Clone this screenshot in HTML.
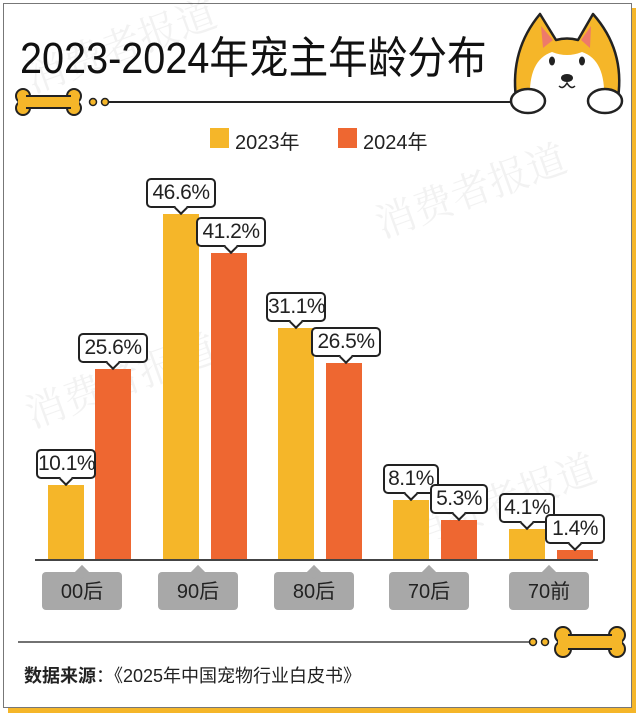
<!DOCTYPE html>
<html><head><meta charset="utf-8"><style>
body{margin:0;width:640px;height:719px;background:#fff;overflow:hidden;font-family:"Liberation Sans","Noto Sans CJK SC",sans-serif}
#c{position:relative;width:640px;height:719px;overflow:hidden}
.a{position:absolute}
.bar{position:absolute;width:36px}
.y{background:#F5B629}.o{background:#EE6731}
.lb{position:absolute;height:26px;border:2px solid #222;border-radius:5px;background:#fff;font-size:21px;line-height:26px;text-align:center;color:#222;letter-spacing:-0.5px}
.lb:after{content:"";position:absolute;left:50%;bottom:-7px;margin-left:-5px;width:8px;height:8px;background:#fff;border-right:2px solid #222;border-bottom:2px solid #222;transform:rotate(45deg)}
.cat{position:absolute;top:572px;width:80px;height:38px;background:#A8A8A8;border-radius:4px;font-size:20px;line-height:40px;text-align:center;color:#222}
.cat:before{content:"";position:absolute;left:50%;top:-5px;margin-left:-5px;width:10px;height:10px;background:#A8A8A8;transform:rotate(45deg)}
.wm{position:absolute;color:rgba(0,0,0,0.05);font-family:"Noto Serif CJK SC",serif;font-size:40px;transform:rotate(-20deg);white-space:nowrap}
</style></head><body><div id="c">
<div class="a" style="left:8px;top:8px;width:628px;height:705px;background:#F5B629"></div>
<div class="a" style="left:3px;top:3px;width:627px;height:703px;background:#fff;border:1px solid #777"></div>
<div class="wm" style="left:20px;top:15px">消费者报道</div>
<div class="wm" style="left:370px;top:160px">消费者报道</div>
<div class="wm" style="left:20px;top:350px">消费者报道</div>
<div class="wm" style="left:400px;top:470px">消费者报道</div>
<div class="a" style="left:20px;top:22px;font-size:44px;color:#111;transform:scaleX(0.9);transform-origin:0 0;white-space:nowrap">2023-2024年宠主年龄分布</div>
<svg class="a" style="left:0;top:0" width="640" height="120">
<line x1="108" y1="102" x2="515" y2="102" stroke="#222" stroke-width="2"/>
<circle cx="93" cy="102" r="3.5" fill="#F5B629" stroke="#222" stroke-width="1.5"/>
<circle cx="105" cy="102" r="3.5" fill="#F5B629" stroke="#222" stroke-width="1.5"/>
<g fill="#F5B629" stroke="#222" stroke-width="2">
<circle cx="23" cy="96" r="7"/><circle cx="23" cy="108" r="7"/><circle cx="74" cy="96" r="7"/><circle cx="74" cy="108" r="7"/>
<line x1="26" y1="96" x2="71" y2="96"/><line x1="26" y1="108" x2="71" y2="108"/>
</g>
<rect x="18" y="97" width="61" height="10" fill="#F5B629"/>
<path d="M516 98 Q510 50 540 14 L556 40 Q567 37 578 40 L593 14 Q625 50 618 98 Z" fill="#F5B629" stroke="#222" stroke-width="2.5" stroke-linejoin="round"/>
<path d="M541 26 L543 48 L553 40Z M591 26 L581 40 L590 48Z" fill="#EE7A6A"/>
<path d="M530 100 Q528 60 552 52 Q567 58 582 52 Q606 60 604 100Z" fill="#fff"/>
<ellipse cx="552" cy="61" rx="3" ry="4.5" fill="#222"/><ellipse cx="582" cy="61" rx="3" ry="4.5" fill="#222"/>
<ellipse cx="567" cy="78" rx="6" ry="4" fill="#222"/>
<path d="M559 86 Q563 90 567 83 Q571 90 575 86" fill="none" stroke="#222" stroke-width="1.5"/>
<ellipse cx="528" cy="101" rx="17" ry="12" fill="#fff" stroke="#222" stroke-width="2.5"/>
<ellipse cx="605" cy="101" rx="17" ry="12" fill="#fff" stroke="#222" stroke-width="2.5"/>
</svg>
<div class="a y" style="left:210px;top:128px;width:19px;height:20px"></div>
<div class="a" style="left:235px;top:126px;font-size:20px;color:#222">2023年</div>
<div class="a o" style="left:338px;top:128px;width:19px;height:20px"></div>
<div class="a" style="left:363px;top:126px;font-size:20px;color:#222">2024年</div>

<div class="bar y" style="left:48px;top:485px;height:75px"></div>
<div class="bar o" style="left:95px;top:369px;height:191px"></div>
<div class="bar y" style="left:163px;top:214px;height:346px"></div>
<div class="bar o" style="left:211px;top:253px;height:307px"></div>
<div class="bar y" style="left:278px;top:328px;height:232px"></div>
<div class="bar o" style="left:326px;top:363px;height:197px"></div>
<div class="bar y" style="left:393px;top:500px;height:60px"></div>
<div class="bar o" style="left:441px;top:520px;height:40px"></div>
<div class="bar y" style="left:509px;top:529px;height:31px"></div>
<div class="bar o" style="left:557px;top:550px;height:10px"></div>
<div class="a" style="left:35px;top:559px;width:563px;height:2px;background:#444"></div>

<div class="lb" style="left:36px;top:449px;width:56px">10.1%</div>
<div class="lb" style="left:78px;top:333px;width:66px">25.6%</div>
<div class="lb" style="left:146px;top:178px;width:66px">46.6%</div>
<div class="lb" style="left:196px;top:217px;width:66px">41.2%</div>
<div class="lb" style="left:266px;top:292px;width:56px">31.1%</div>
<div class="lb" style="left:311px;top:327px;width:66px">26.5%</div>
<div class="lb" style="left:383px;top:464px;width:52px">8.1%</div>
<div class="lb" style="left:430px;top:484px;width:54px">5.3%</div>
<div class="lb" style="left:499px;top:493px;width:52px">4.1%</div>
<div class="lb" style="left:545px;top:514px;width:56px">1.4%</div>

<div class="cat" style="left:42px">00后</div>
<div class="cat" style="left:158px">90后</div>
<div class="cat" style="left:274px">80后</div>
<div class="cat" style="left:389px">70后</div>
<div class="cat" style="left:509px">70前</div>

<svg class="a" style="left:0;top:600px" width="640" height="60">
<line x1="18" y1="42" x2="530" y2="42" stroke="#444" stroke-width="1.5"/>
<circle cx="533" cy="42" r="3.5" fill="#F5B629" stroke="#222" stroke-width="1.5"/>
<circle cx="545" cy="42" r="3.5" fill="#F5B629" stroke="#222" stroke-width="1.5"/>
<g fill="#F5B629" stroke="#222" stroke-width="2">
<circle cx="563" cy="35" r="8"/><circle cx="563" cy="49" r="8"/><circle cx="617" cy="35" r="8"/><circle cx="617" cy="49" r="8"/>
<line x1="568" y1="35" x2="612" y2="35"/><line x1="568" y1="49" x2="612" y2="49"/>
</g>
<rect x="558" y="36" width="64" height="12" fill="#F5B629"/>
</svg>
<div class="a" style="left:24px;top:662px;font-size:18px;color:#222"><b>数据来源</b>：《2025年中国宠物行业白皮书》</div>
</div></body></html>
